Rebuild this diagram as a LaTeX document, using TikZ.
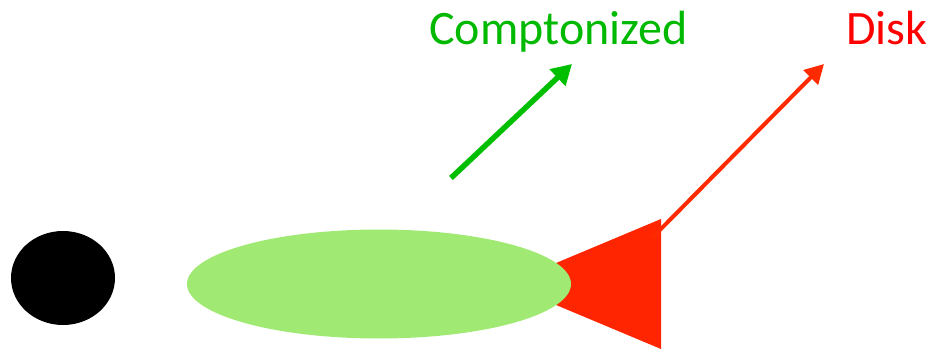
\documentclass[tikz,border=0pt]{standalone}
\usepackage{fontspec}
\setmainfont{Carlito}
\usetikzlibrary{arrows.meta,shapes.geometric}
\definecolor{labgreen}{RGB}{0,185,0}
\definecolor{arrgreen}{RGB}{0,190,0}
\definecolor{labred}{RGB}{255,0,0}
\definecolor{arrred}{RGB}{255,42,0}
\definecolor{trired}{RGB}{255,37,0}
\definecolor{clgreen}{RGB}{160,234,115}
\tikzset{
  blob/.style={ellipse, inner sep=0pt, draw=none},
  lab/.style={anchor=base west, inner sep=0pt, font=\fontsize{48}{58}\selectfont},
  ray/.style={line cap=butt, -{Triangle[length=20pt,width=22pt]}}
}
\begin{document}
\begin{tikzpicture}[x=1pt,y=-1pt]
\useasboundingbox (0,0) rectangle (932,350);
% black hole
\node[blob, fill=black, minimum width=104pt, minimum height=94pt] (bh) at (63,278) {};
% disk triangle
\fill[trired] (506,284) -- (661,219) -- (661,349) -- cycle;
\coordinate (dsk) at (652,238);
% comptonizing cloud
\node[blob, fill=clgreen, minimum width=384pt, minimum height=109pt] (cloud) at (379,284) {};
% labels
\node[lab, text=labgreen] (comp) at (429,45) {Comptonized};
\node[lab, text=labred] (disk) at (846,45) {Disk};
% arrows
\coordinate (gs) at (451,178);
\coordinate (gt) at (572,64);
\coordinate (rt) at (824,64);
\draw[ray, arrgreen, line width=5.5pt] (gs) -- (gt);
\draw[ray, arrred, line width=4pt, -{Triangle[length=19pt,width=20pt]}] (dsk) -- (rt);
\end{tikzpicture}
\end{document}
